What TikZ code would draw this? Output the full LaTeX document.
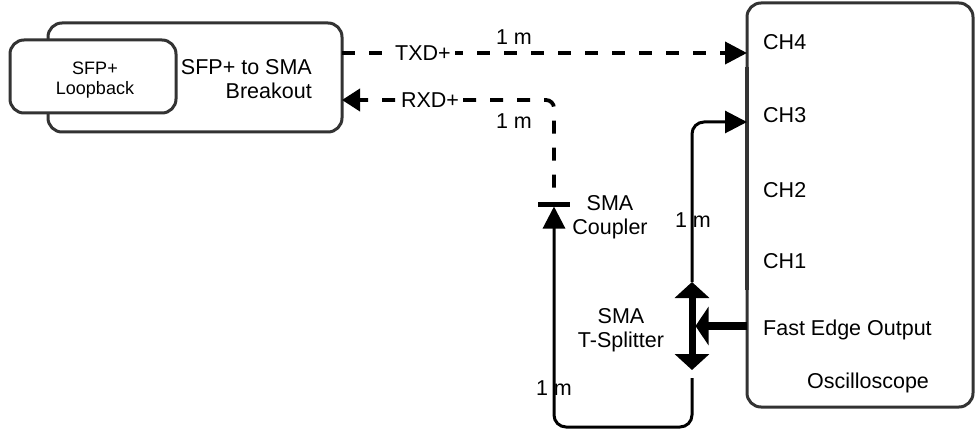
\documentclass[tikz,border=0pt]{standalone}
\usepackage{fontspec}
\setmainfont{Liberation Sans}
\usetikzlibrary{arrows.meta}
\begin{document}
\begin{tikzpicture}[x=1pt,y=-1pt,
  box/.style={draw=black!80, line width=3pt, rounded corners=14pt, inner sep=0pt, outer sep=0pt},
  lbl/.style={font=\fontsize{21.5}{24}\selectfont, inner sep=0pt, align=center},
  small/.style={font=\fontsize{18}{19.5}\selectfont, inner sep=0pt, align=center},
  dsh/.style={line width=3.8pt, dash pattern=on 13pt off 14pt},
  sol/.style={line width=3pt},
  tip/.style={-{Triangle[length=22pt,width=22pt]}},
  backtip/.style={{Triangle[length=18pt,width=22pt]}-},
  thick arrow/.style={{Triangle[length=16pt,width=34pt]}-{Triangle[length=16pt,width=34pt]}}
]
\useasboundingbox (0,0) rectangle (975,433);

% boxes
\node[box, minimum width=294pt, minimum height=109pt, anchor=north west] (breakout) at (48,23) {};
\node[lbl, align=right, anchor=east] (btext) at (312,79) {SFP+ to SMA\\Breakout};
\node[box, fill=white, minimum width=166pt, minimum height=73pt, anchor=north west] (loop) at (10,40) {};
\node[small] (ltext) at (95,80) {SFP+\\Loopback};
\node[box, minimum width=226pt, minimum height=404pt, anchor=north west] (scope) at (747,3) {};
\draw[line width=4.2pt, black!80] ([yshift=-64pt]scope.north west) -- ([yshift=-287pt]scope.north west);

% scope labels
\node[lbl, anchor=base west] (ch4) at (763,50) {CH4};
\node[lbl, anchor=base west] (ch3) at (763,123) {CH3};
\node[lbl, anchor=base west] (ch2) at (763,197) {CH2};
\node[lbl, anchor=base west] (ch1) at (763,268) {CH1};
\node[lbl, anchor=base west] (feo) at (763,335) {Fast Edge Output};
\node[lbl, anchor=base] (osc) at (868,388) {Oscilloscope};

% helper heights
\coordinate (p4) at (0,53);
\coordinate (prx) at (0,100);
\coordinate (p3) at (0,122);
\coordinate (pb) at (0,427);

% coupler and splitter
\node[fill=black, minimum width=32pt, minimum height=5pt, inner sep=0pt, outer sep=0pt] (coupler) at (554,204) {};
\node[lbl] (cplbl) at (610,217) {SMA\\Coupler};
\node[minimum width=7pt, minimum height=88pt, inner sep=0pt, outer sep=0pt] (ts) at (692,326) {};
\node[lbl] (tslbl) at (621,330) {SMA\\T-Splitter};

% TXD
\draw[dsh, tip] (breakout.east |- p4) -- (scope.west |- p4);
\node[lbl, fill=white, inner xsep=4pt] (txd) at (423,53) {TXD+};
\node[lbl] (m1) at (514,37) {1 m};

% RXD
\draw[dsh, backtip, rounded corners=8pt, dash phase=4pt] (breakout.east |- prx) -| (coupler.north);
\node[lbl, fill=white, inner xsep=4pt] (rxd) at (430,100) {RXD+};
\node[lbl] (m2) at (514,121) {1 m};

% splitter to CH3
\draw[sol, tip, rounded corners=12pt] (ts.north) |- (scope.west |- p3);
\node[lbl] (m3) at (693,220) {1 m};

% splitter to coupler
\draw[sol, tip, rounded corners=12pt, shorten <=8pt] (ts.south) |- (coupler.south |- pb) -- (coupler.south);
\node[lbl] (m4) at (554,388) {1 m};

% T-splitter
\draw[line width=7pt, thick arrow] (ts.north) -- (ts.south);
\draw[line width=8pt, -{Triangle[length=13pt,width=38pt]}] (scope.west |- ts) -- (ts.east);
\end{tikzpicture}
\end{document}
